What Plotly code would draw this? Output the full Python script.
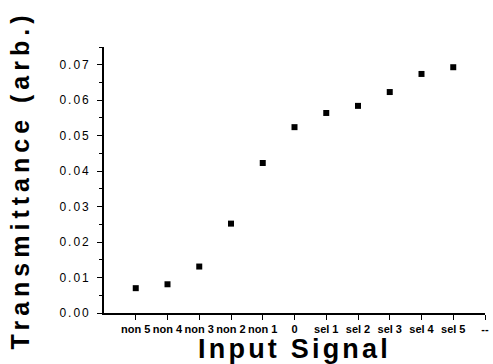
import plotly.graph_objects as go

categories = ["non 5", "non 4", "non 3", "non 2", "non 1", "0",
              "sel 1", "sel 2", "sel 3", "sel 4", "sel 5", "--"]
signal = ["non 5", "non 4", "non 3", "non 2", "non 1", "0",
          "sel 1", "sel 2", "sel 3", "sel 4", "sel 5"]
transmittance = [0.0070, 0.0081, 0.0131, 0.0252, 0.0423, 0.0524,
                 0.0564, 0.0584, 0.0623, 0.0674, 0.0693]
y_ticks = [0.00, 0.01, 0.02, 0.03, 0.04, 0.05, 0.06, 0.07]

fig = go.Figure()
fig.add_trace(go.Scatter(
    x=signal, y=transmittance, mode="markers",
    marker=dict(symbol="square", size=6, color="black"),
    showlegend=False,
))

font_family = "Liberation Sans, Arial, sans-serif"

fig.update_layout(
    width=493, height=364,
    margin=dict(l=104, r=8, t=47, b=51),
    paper_bgcolor="white", plot_bgcolor="white",
    font=dict(family=font_family, color="black"),
    xaxis=dict(
        type="category", categoryorder="array", categoryarray=categories,
        range=[-1, 11], automargin=False, tickangle=0,
        showgrid=False, zeroline=False,
        showline=True, linecolor="black", linewidth=1.6,
        ticks="outside", ticklen=5, tickwidth=1.3, tickcolor="black",
        tickfont=dict(size=11, family=font_family, weight="bold"),
        title=dict(text="Input Signal",
                   font=dict(size=27, family=font_family, weight="bold"),
                   standoff=0),
    ),
    yaxis=dict(
        range=[0, 0.075], automargin=False,
        tickvals=y_ticks, tickformat=".2f",
        showgrid=False, zeroline=False,
        showline=True, linecolor="black", linewidth=1.6,
        ticks="outside", ticklen=5, tickwidth=1.3, tickcolor="black",
        ticklabelstandoff=4,
        minor=dict(dtick=0.005, ticks="outside", ticklen=3, tickcolor="black", tickwidth=1),
        tickfont=dict(size=12, family=font_family),
        title=dict(text="Transmittance (arb.)",
                   font=dict(size=25, family=font_family, weight="bold"),
                   standoff=31),
    ),
)

post = """
document.body.style.margin='0';
document.body.style.overflow='hidden';
document.querySelectorAll('.xtitle').forEach(function(e){e.style.letterSpacing='3.2px';});
document.querySelectorAll('.ytitle').forEach(function(e){e.style.letterSpacing='5px';});
document.querySelectorAll('.ytick text').forEach(function(e){e.style.letterSpacing='2px';});
"""

fig.write_html("out.html", post_script=post, config={"displayModeBar": False})
